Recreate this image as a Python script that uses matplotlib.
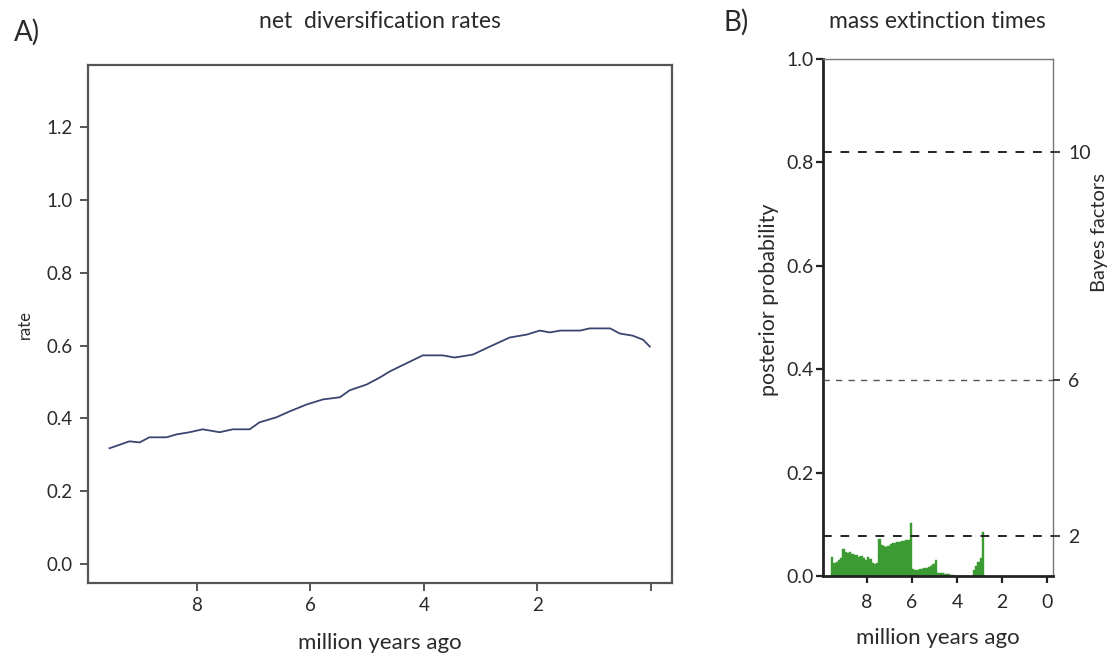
import numpy as np
import matplotlib
matplotlib.use("Agg")
import matplotlib.pyplot as plt

plt.rcParams['font.family'] = ['Lato', 'DejaVu Sans']

# ---- Panel A data: net diversification rate through time ----
rate_age = [9.54, 9.19, 9.01, 8.84, 8.54, 8.36, 8.13, 7.90, 7.60, 7.37, 7.07,
            6.90, 6.60, 6.37, 6.07, 5.78, 5.48, 5.31, 5.01, 4.78, 4.60, 4.43,
            4.02, 3.67, 3.46, 3.14, 2.84, 2.49, 2.19, 1.96, 1.78, 1.60, 1.25,
            1.08, 0.72, 0.55, 0.32, 0.14, 0.02]
rate_val = [0.318, 0.337, 0.334, 0.348, 0.348, 0.356, 0.362, 0.370, 0.362, 0.370, 0.370,
            0.389, 0.403, 0.419, 0.438, 0.452, 0.458, 0.477, 0.493, 0.512, 0.529, 0.542,
            0.573, 0.573, 0.567, 0.575, 0.597, 0.622, 0.630, 0.641, 0.636, 0.641, 0.641,
            0.647, 0.647, 0.633, 0.627, 0.616, 0.597]

# ---- Panel B data: posterior probability of mass extinction (0.1 Myr bins) ----
bin_width = 0.1
bin_oldest = 9.6
mass_ext_prob = [0.036, 0.026, 0.028, 0.030, 0.034, 0.052, 0.046, 0.044, 0.046, 0.042,
                 0.041, 0.040, 0.036, 0.038, 0.034, 0.030, 0.036, 0.032, 0.026, 0.024,
                 0.026, 0.072, 0.060, 0.058, 0.057, 0.058, 0.062, 0.063, 0.064, 0.066,
                 0.066, 0.068, 0.068, 0.070, 0.070, 0.103, 0.014, 0.012, 0.012, 0.013,
                 0.014, 0.015, 0.016, 0.018, 0.020, 0.024, 0.030, 0.006, 0.005, 0.005,
                 0.004, 0.004, 0.004, 0.002, 0.001, 0.000, 0.000, 0.000, 0.000, 0.000,
                 0.000, 0.000, 0.000, 0.012, 0.020, 0.028, 0.034, 0.086, 0.000]
bin_centers = bin_oldest - bin_width * (np.arange(len(mass_ext_prob)) + 0.5)

bf_levels = [0.077, 0.38, 0.82]
bf_labels = ["2", "6", "10"]

a_xticks = [8, 6, 4, 2, 0]
a_xticklabels = ["8", "6", "4", "2", ""]
a_yticks = [0.0, 0.2, 0.4, 0.6, 0.8, 1.0, 1.2]
b_xticks = [8, 6, 4, 2, 0]
b_yticks = [0.0, 0.2, 0.4, 0.6, 0.8, 1.0]

fig = plt.figure(figsize=(11.14, 6.71), dpi=100)

txt = '#2a2a2a'
spine_c = '#555555'

# ---------------- Panel A ----------------
axA = fig.add_axes([0.0790, 0.1311, 0.5242, 0.7720])
axA.plot(rate_age, rate_val, color='#3a4670', lw=1.3)
axA.set_xlim(9.92, -0.37)
axA.set_ylim(-0.052, 1.37)
axA.set_xticks(a_xticks)
axA.set_xticklabels(a_xticklabels)
axA.set_yticks(a_yticks)
axA.set_yticklabels([f"{v:.1f}" for v in a_yticks])
for s in axA.spines.values():
    s.set_color(spine_c)
    s.set_linewidth(1.6)
axA.tick_params(direction='out', length=6, width=1.4, color=spine_c,
                labelsize=13.5, labelcolor=txt, pad=5)
axA.tick_params(axis='x', pad=4)
axA.set_xlabel("million years ago", fontsize=16, color=txt, labelpad=14)
axA.set_ylabel("rate", fontsize=12, color=txt, labelpad=10)

fig.text(380/1114, 1-22/671, "net  diversification rates", ha='center', va='center',
         fontsize=16.5, color=txt)
fig.text(27/1114, 1-32/671, "A)", ha='center', va='center', fontsize=20, color=txt)

# ---------------- Panel B ----------------
axB = fig.add_axes([0.7388, 0.1416, 0.2065, 0.7705])
axB.bar(bin_centers, mass_ext_prob, width=bin_width, color='#3d9b33',
        edgecolor='#3d9b33', linewidth=0.3, zorder=2)
for lv in bf_levels:
    lw = 1.4 if lv != 0.38 else 1.0
    axB.axhline(lv, color='#222222' if lv != 0.38 else '#555555', lw=lw,
                ls=(0, (4.5, 4.5)), zorder=3)
axB.set_xlim(9.96, -0.27)
axB.set_ylim(0, 1.0)
axB.set_xticks(b_xticks)
axB.set_yticks(b_yticks)
axB.set_yticklabels([f"{v:.1f}" for v in b_yticks])
axB.spines['left'].set_color('#222222')
axB.spines['left'].set_linewidth(2.0)
axB.spines['bottom'].set_color('#222222')
axB.spines['bottom'].set_linewidth(2.0)
axB.spines['top'].set_color('#777777')
axB.spines['top'].set_linewidth(1.0)
axB.spines['right'].set_color('#777777')
axB.spines['right'].set_linewidth(1.0)
axB.tick_params(direction='out', length=5, width=1.6, color='#222222',
                labelsize=14, labelcolor=txt, pad=2)
axB.tick_params(axis='x', pad=8)
axB.set_xlabel("million years ago", fontsize=16, color=txt, labelpad=12)
axB.set_ylabel("posterior probability", fontsize=15.5, color=txt, labelpad=0)
axB.yaxis.set_label_coords(-0.19, 0.535)

axR = axB.twinx()
axR.set_ylim(0, 1.0)
axR.set_yticks(bf_levels)
axR.set_yticklabels(bf_labels)
axR.tick_params(direction='out', length=5, width=1.2, color='#222222',
                labelsize=14, labelcolor=txt, pad=6)
for s in axR.spines.values():
    s.set_visible(False)

fig.text(1100/1114, 1-232/671, "Bayes factors", ha='center', va='center',
         rotation=90, fontsize=14.5, color=txt)
fig.text(937/1114, 1-22/671, "mass extinction times", ha='center', va='center',
         fontsize=16.5, color=txt)
fig.text(736/1114, 1-22/671, "B)", ha='center', va='center', fontsize=20, color=txt)

fig.savefig("out.png", dpi=100, facecolor='white')
